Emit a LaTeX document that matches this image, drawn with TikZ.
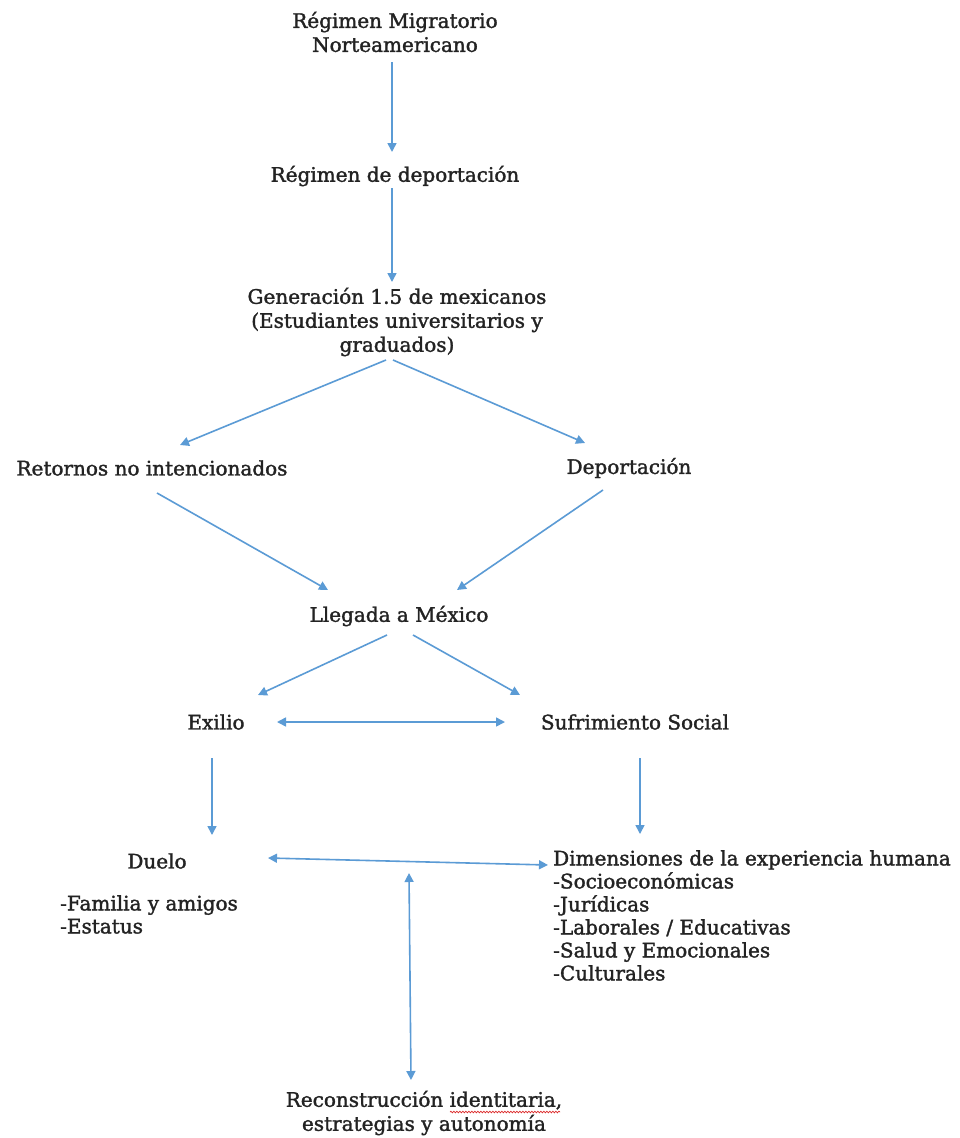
\documentclass[tikz,border=0pt]{standalone}
\usepackage{fontspec}
\setmainfont{DejaVu Serif}[FakeBold=1.6]
\usetikzlibrary{arrows.meta,calc,decorations.pathmorphing}
\definecolor{arrowblue}{RGB}{91,155,213}
\definecolor{txt}{RGB}{35,35,35}
\definecolor{squig}{RGB}{220,40,40}
\begin{document}
\begin{tikzpicture}[x=1pt,y=-1pt,
  lbl/.style={inner sep=0pt, text=txt, font=\fontsize{20}{24}\selectfont, align=center},
  lst/.style={inner sep=0pt, text=txt, font=\fontsize{20}{23}\selectfont, align=left, anchor=north west},
  arr/.style={draw=arrowblue, line width=1.6pt, -{Triangle[length=9pt,width=9pt]}},
  darr/.style={draw=arrowblue, line width=1.6pt, {Triangle[length=9pt,width=9pt]}-{Triangle[length=9pt,width=9pt]}}]
\fill[white] (0,0) rectangle (959,1138);
\useasboundingbox (0,0) rectangle (959,1138);

\node[lbl] (rmn) at (395,32) {Régimen Migratorio\\Norteamericano};
\node[lbl] (rd) at (395,176) {Régimen de deportación};
\node[lbl] (gen) at (397,322) {Generación 1.5 de mexicanos\\(Estudiantes universitarios y\\graduados)};
\node[lbl] (ret) at (152,468) {Retornos no intencionados};
\node[lbl] (dep) at (629,468) {Deportación};
\node[lbl] (lleg) at (399,616) {Llegada a México};
\node[lbl] (exi) at (216,722) {Exilio};
\node[lbl] (suf) at (635,722) {Sufrimiento Social};
\node[lbl] (duelo) at (157,861) {Duelo};
\node[lst] (fam) at (60,895) {-Familia y amigos\\-Estatus};
\node[lst] (dim) at (553,850) {Dimensiones de la experiencia humana\\-Socioeconómicas\\-Jurídicas\\-Laborales / Educativas\\-Salud y Emocionales\\-Culturales};
\node[lbl] (rec) at (424,1113) {Reconstrucción identitaria,\\estrategias y autonomía};

\draw[arr] ($(rmn)+(-3,30)$) -- ($(rd)+(-3,-24)$);
\draw[arr] ($(rd)+(-3,12)$) -- ($(gen)+(-5,-40)$);
\draw[arr] ($(gen)+(-11,38)$) -- ($(ret)+(28,-23)$);
\draw[arr] ($(gen)+(-4,38)$) -- ($(dep)+(-44,-25)$);
\draw[arr] ($(ret)+(5,25)$) -- ($(lleg)+(-71,-26)$);
\draw[arr] ($(dep)+(-26,22)$) -- ($(lleg)+(58,-26)$);
\draw[arr] ($(lleg)+(-12,19)$) -- ($(exi)+(42,-27)$);
\draw[arr] ($(lleg)+(14,19)$) -- ($(suf)+(-115,-27)$);
\draw[darr] ($(exi)+(61,0)$) -- ($(suf)+(-130,0)$);
\draw[arr] ($(exi)+(-4,36)$) -- ($(duelo)+(55,-26)$);
\draw[arr] ($(suf)+(5,36)$) -- ($(dim.north west)+(87,-16)$);
\draw[darr] ($(duelo)+(111,-3)$) -- ($(dim.north west)+(-5,15)$);
\coordinate (jn) at ($(duelo)+(252,12)$);
\draw[darr] (jn) -- ($(rec)+(-13,-33)$);

\draw[squig, line width=0.7pt, decorate, decoration={snake, amplitude=0.8pt, segment length=3pt}]
  ($(rec)+(26,-1)$) -- ($(rec)+(136,-1)$);
\end{tikzpicture}
\end{document}
